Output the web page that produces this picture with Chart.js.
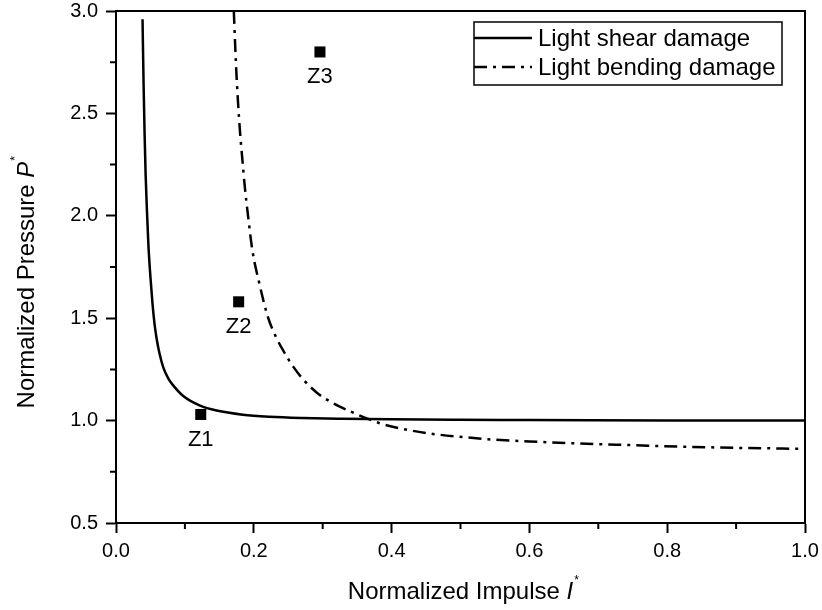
<!DOCTYPE html>
<html>
<head>
<meta charset="utf-8">
<script src="https://cdn.jsdelivr.net/npm/chart.js@4.4.1/dist/chart.umd.min.js"></script>
<style>
  html, body { margin: 0; padding: 0; background: #fff; }
  #wrap { width: 822px; height: 610px; }
</style>
</head>
<body>
<div id="wrap"><canvas id="chart" width="822" height="610"></canvas></div>
<script>
// ================= DATA =================
const shearX = [0.0385, 0.040, 0.0415, 0.043, 0.045, 0.047, 0.050, 0.053, 0.056, 0.059, 0.063, 0.0686, 0.076, 0.083, 0.0976, 0.122, 0.146, 0.184, 0.223, 0.270, 0.330, 0.400, 0.500, 0.600, 0.800, 1.000];
const shearY = [2.96, 2.65, 2.40, 2.20, 2.02, 1.86, 1.70, 1.57, 1.47, 1.40, 1.33, 1.26, 1.205, 1.172, 1.12, 1.073, 1.049, 1.029, 1.019, 1.013, 1.009, 1.006, 1.004, 1.003, 1.001, 1.000];

const bendX = [0.171, 0.174, 0.177, 0.180, 0.183, 0.187, 0.192, 0.198, 0.208, 0.221, 0.232, 0.243, 0.258, 0.272, 0.292, 0.315, 0.340, 0.363, 0.385, 0.412, 0.460, 0.508, 0.552, 0.600, 0.672, 0.750, 0.817, 0.900, 1.000];
const bendY = [3.00, 2.75, 2.56, 2.41, 2.29, 2.14, 1.99, 1.83, 1.67, 1.50, 1.41, 1.34, 1.26, 1.20, 1.135, 1.085, 1.045, 1.012, 0.985, 0.962, 0.935, 0.918, 0.906, 0.898, 0.888, 0.880, 0.873, 0.867, 0.862];

const zoneNames = ["Z1", "Z2", "Z3"];
const zoneX = [0.123, 0.178, 0.296];
const zoneY = [1.03, 1.58, 2.80];

const xTickStep = 0.2;
const yTickStep = 0.5;
const xMinorTicks = [0.1, 0.3, 0.5, 0.7, 0.9];
const yMinorTicks = [0.75, 1.25, 1.75, 2.25, 2.75];

const legendLabels = ["Light shear damage", "Light bending damage"];

// ================= HELPERS =================
const FONT = "'Liberation Sans', Arial, sans-serif";
const DASH_DOT = [13, 6, 3, 6];

function toPoints(xs, ys) {
  return xs.map((x, i) => ({ x: x, y: ys[i] }));
}

// ================= PLUGINS =================
const framePlugin = {
  id: "frame",
  afterDraw(chart) {
    const { ctx, chartArea: a, scales } = chart;
    ctx.save();
    ctx.strokeStyle = "#000";
    ctx.fillStyle = "#000";
    ctx.lineWidth = 2;

    // top + right border
    ctx.beginPath();
    ctx.moveTo(a.left, a.top);
    ctx.lineTo(a.right, a.top);
    ctx.lineTo(a.right, a.bottom);
    ctx.stroke();

    // minor ticks
    ctx.beginPath();
    xMinorTicks.forEach(v => {
      const px = scales.x.getPixelForValue(v);
      ctx.moveTo(px, a.bottom);
      ctx.lineTo(px, a.bottom + 6);
    });
    yMinorTicks.forEach(v => {
      const py = scales.y.getPixelForValue(v);
      ctx.moveTo(a.left, py);
      ctx.lineTo(a.left - 6, py);
    });
    ctx.stroke();

    // zone labels
    ctx.font = "22px " + FONT;
    ctx.textAlign = "center";
    ctx.textBaseline = "middle";
    zoneNames.forEach((name, i) => {
      const px = scales.x.getPixelForValue(zoneX[i]);
      const py = scales.y.getPixelForValue(zoneY[i]);
      ctx.fillText(name, px, py + 25);
    });

    // x axis title
    ctx.textBaseline = "alphabetic";
    ctx.textAlign = "left";
    const xMain = "Normalized Impulse ";
    ctx.font = "24px " + FONT;
    const w1 = ctx.measureText(xMain).width;
    ctx.font = "italic 24px " + FONT;
    const w2 = ctx.measureText("I").width;
    const sx = (a.left + a.right) / 2 - (w1 + w2) / 2;
    ctx.font = "24px " + FONT;
    ctx.fillText(xMain, sx, 599);
    ctx.font = "italic 24px " + FONT;
    ctx.fillText("I", sx + w1, 599);
    ctx.font = "12px " + FONT;
    ctx.fillText("*", sx + w1 + w2 + 1, 584);

    // y axis title
    ctx.save();
    ctx.translate(34, 285);
    ctx.rotate(-Math.PI / 2);
    const yMain = "Normalized Pressure ";
    ctx.font = "24px " + FONT;
    const v1 = ctx.measureText(yMain).width;
    ctx.font = "italic 24px " + FONT;
    const v2 = ctx.measureText("P").width;
    const sy = -(v1 + v2) / 2;
    ctx.font = "24px " + FONT;
    ctx.fillText(yMain, sy, 0);
    ctx.font = "italic 24px " + FONT;
    ctx.fillText("P", sy + v1, 0);
    ctx.font = "12px " + FONT;
    ctx.fillText("*", sy + v1 + v2 + 1, -15);
    ctx.restore();

    // legend
    const bx = a.right - 331, by = a.top + 11, bw = 308, bh = 63;
    ctx.lineWidth = 1.5;
    ctx.strokeRect(bx, by, bw, bh);
    ctx.font = "24px " + FONT;
    ctx.textBaseline = "middle";
    ctx.textAlign = "left";
    [0, 1].forEach(i => {
      const ly = by + 16 + i * 29;
      ctx.beginPath();
      ctx.lineWidth = 2.5;
      ctx.setLineDash(i === 0 ? [] : DASH_DOT);
      ctx.moveTo(bx, ly);
      ctx.lineTo(bx + 58, ly);
      ctx.stroke();
      ctx.setLineDash([]);
      ctx.fillText(legendLabels[i], bx + 64, ly + 1);
    });
    ctx.restore();
  }
};

// ================= CHART =================
const tickFont = { family: FONT, size: 20 };

new Chart(document.getElementById("chart"), {
  type: "scatter",
  data: {
    datasets: [
      {
        label: legendLabels[0],
        data: toPoints(shearX, shearY),
        showLine: true,
        borderColor: "#000",
        borderWidth: 2.5,
        pointRadius: 0,
        cubicInterpolationMode: "monotone"
      },
      {
        label: legendLabels[1],
        data: toPoints(bendX, bendY),
        showLine: true,
        borderColor: "#000",
        borderWidth: 2.5,
        borderDash: DASH_DOT,
        pointRadius: 0,
        cubicInterpolationMode: "monotone"
      },
      {
        label: "Zones",
        data: toPoints(zoneX, zoneY),
        pointStyle: "rect",
        pointRadius: 7.8,
        pointBorderWidth: 0,
        backgroundColor: "#000",
        borderColor: "#000"
      }
    ]
  },
  options: {
    responsive: false,
    animation: false,
    layout: { padding: { top: 11, right: 17, left: 0, bottom: 0 } },
    plugins: {
      legend: { display: false },
      tooltip: { enabled: false }
    },
    scales: {
      x: {
        type: "linear",
        min: 0,
        max: 1,
        afterFit: s => { s.height = 87; s.paddingLeft = 0; s.paddingRight = 0; },
        border: { color: "#000", width: 2 },
        grid: { drawOnChartArea: false, tickLength: 10, tickWidth: 2, tickColor: "#000" },
        ticks: {
          stepSize: xTickStep,
          color: "#000",
          font: tickFont,
          padding: 6,
          maxRotation: 0,
          callback: v => v.toFixed(1)
        }
      },
      y: {
        type: "linear",
        min: 0.5,
        max: 3,
        afterFit: s => { s.width = 116; s.paddingTop = 0; s.paddingBottom = 0; },
        border: { color: "#000", width: 2 },
        grid: { drawOnChartArea: false, tickLength: 10, tickWidth: 2, tickColor: "#000" },
        ticks: {
          stepSize: yTickStep,
          color: "#000",
          font: tickFont,
          padding: 8,
          callback: v => v.toFixed(1)
        }
      }
    }
  },
  plugins: [framePlugin]
});
</script>
</body>
</html>
